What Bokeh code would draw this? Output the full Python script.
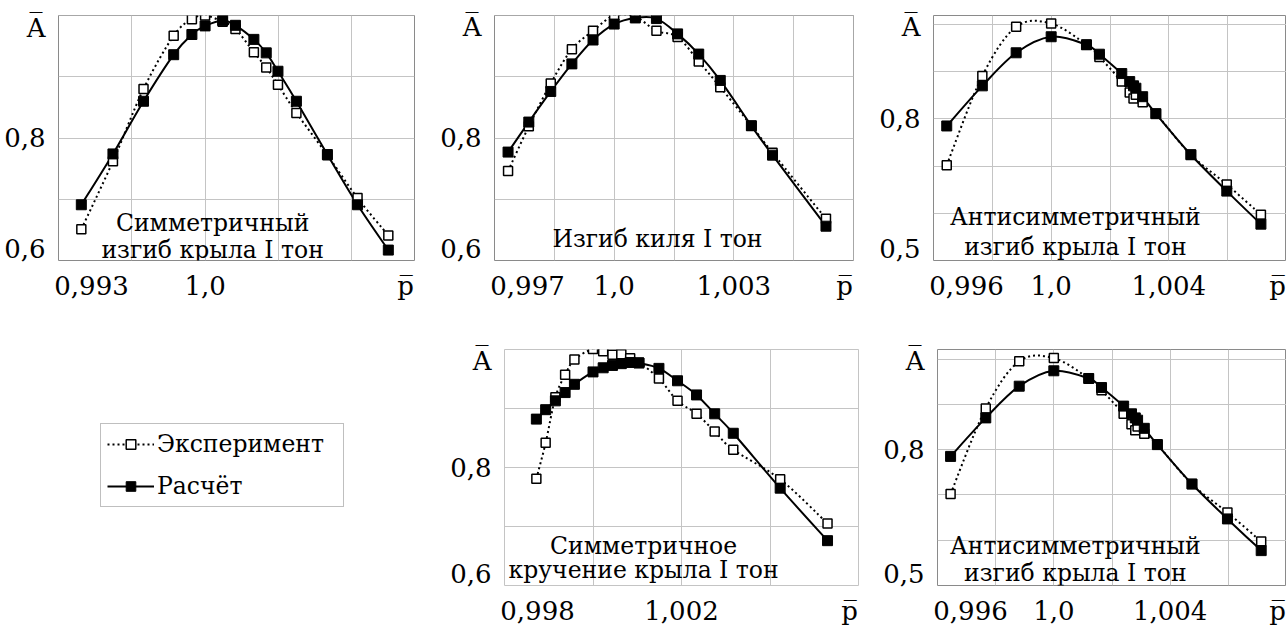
import numpy as np
from bokeh.plotting import figure
from bokeh.layouts import row, column
from bokeh.models import FixedTicker, Label, Legend, LegendItem, ColumnDataSource
from bokeh.embed import file_html
from bokeh.resources import INLINE

FONT = "DejaVu Serif"

# ---------------- data ----------------
# Panel 1: Симметричный изгиб крыла I тон
p1_x = [0.99409, 0.9956, 0.99706, 0.9985, 0.99937, 1.0, 1.00084, 1.00145,
        1.00233, 1.00292, 1.00348, 1.00436, 1.00584, 1.00728, 1.00875]
p1_calc = [0.691, 0.774, 0.860, 0.936, 0.969, 0.983, 0.992, 0.984,
           0.961, 0.939, 0.909, 0.860, 0.773, 0.691, 0.617]
p1_exp = [0.651, 0.762, 0.880, 0.967, 0.994, 1.000, 0.990, 0.978,
          0.940, 0.915, 0.887, 0.841, 0.772, 0.702, 0.641]
p1_xticks = ["0,993", "1,0"]
p1_xtick_vals = [0.993, 1.0]
p1_yticks = ["0,8", "0,6"]
p1_ytick_vals = [0.8, 0.6]
p1_title = ["Симметричный", "изгиб крыла I тон"]

# Panel 2: Изгиб киля I тон
p2_x = [0.99734, 0.99786, 0.99841, 0.99894, 0.99947, 1.0, 1.00053,
        1.00106, 1.00159, 1.00212, 1.00266, 1.00344, 1.00397, 1.00531]
p2_calc = [0.777, 0.826, 0.876, 0.921, 0.960, 0.986, 0.996,
           0.995, 0.970, 0.937, 0.894, 0.820, 0.772, 0.656]
p2_exp = [0.746, 0.819, 0.889, 0.945, 0.975, 1.000, 0.998,
          0.975, 0.965, 0.925, 0.883, 0.820, 0.776, 0.668]
p2_xticks = ["0,997", "1,0", "1,003"]
p2_xtick_vals = [0.997, 1.0, 1.003]
p2_yticks = ["0,8", "0,6"]
p2_ytick_vals = [0.8, 0.6]
p2_title = ["Изгиб киля I тон"]

# Panel 3 (the same curves are shown again in panel 5): Антисимметричный изгиб крыла I тон
p3_x = [0.99645, 0.99766, 0.99881, 1.0, 1.0012, 1.00164, 1.0024, 1.00267,
        1.0028, 1.00288, 1.00311, 1.00356, 1.00475, 1.00597, 1.00713]
p3_calc = [0.785, 0.870, 0.940, 0.974, 0.957, 0.937, 0.896, 0.879,
           0.870, 0.865, 0.847, 0.811, 0.724, 0.647, 0.577]
p3_exp = [0.702, 0.891, 0.995, 1.002, 0.957, 0.931, 0.879, 0.856,
          0.843, 0.851, 0.835, 0.811, 0.724, 0.661, 0.597]
p3_xticks = ["0,996", "1,0", "1,004"]
p3_xtick_vals = [0.996, 1.0, 1.004]
p3_yticks = ["0,8", "0,5"]
p3_ytick_vals = [0.8, 0.5]
p3_title = ["Антисимметричный", "изгиб крыла I тон"]

# Panel 4: Симметричное кручение крыла I тон
p4_x = [0.99872, 0.99893, 0.99915, 0.99937, 0.99958, 1.0, 1.00023, 1.00044,
        1.00064, 1.00084, 1.00104, 1.00149, 1.00191, 1.00234, 1.00275,
        1.00317, 1.00423, 1.0053]
p4_calc = [0.882, 0.898, 0.913, 0.927, 0.941, 0.962, 0.969, 0.973,
           0.976, 0.978, 0.977, 0.968, 0.947, 0.923, 0.891,
           0.858, 0.765, 0.676]
p4_exp = [0.781, 0.842, 0.919, 0.957, 0.983, 1.001, 0.997, 0.991,
          0.992, 0.985, 0.978, 0.951, 0.913, 0.891, 0.861,
          0.830, 0.780, 0.705]
p4_xticks = ["0,998", "1,002"]
p4_xtick_vals = [0.998, 1.002]
p4_yticks = ["0,8", "0,6"]
p4_ytick_vals = [0.8, 0.6]
p4_title = ["Симметричное", "кручение крыла I тон"]

legend_labels = ["Эксперимент", "Расчёт"]
y_name = "A\u0305"
x_name = "p\u0305"


def bezier_source(xs, ys):
    """Smoothed segments through the data points (as in the original smoothed lines)."""
    n = len(xs)
    d = {k: [] for k in ("x0", "y0", "x1", "y1", "cx0", "cy0", "cx1", "cy1")}
    for i in range(n - 1):
        a = max(i - 1, 0)
        b = min(i + 2, n - 1)
        d["x0"].append(xs[i]); d["y0"].append(ys[i])
        d["x1"].append(xs[i + 1]); d["y1"].append(ys[i + 1])
        d["cx0"].append(xs[i] + (xs[i + 1] - xs[a]) / 6.0)
        d["cy0"].append(ys[i] + (ys[i + 1] - ys[a]) / 6.0)
        d["cx1"].append(xs[i + 1] - (xs[b] - xs[i]) / 6.0)
        d["cy1"].append(ys[i + 1] - (ys[b] - ys[i]) / 6.0)
    return ColumnDataSource(d)


def make_panel(xs, calc, exp, xr, yr, xstep, xtick_vals, xticks, ytick_vals, yticks,
               title_lines, title_fx, title_fy, width, height, left, right, top, bottom,
               outline="#8a8a8a"):
    p = figure(width=width, height=height, x_range=xr, y_range=yr,
               output_backend="svg", toolbar_location=None,
               min_border_left=left, min_border_right=right,
               min_border_top=top, min_border_bottom=bottom)
    p.background_fill_color = "white"
    p.border_fill_color = "white"
    p.outline_line_color = outline
    p.outline_line_width = 1

    frame_w = width - left - right
    frame_h = height - top - bottom
    dx = (xr[1] - xr[0]) / frame_w
    dy = (yr[1] - yr[0]) / frame_h

    p.xgrid.ticker = FixedTicker(ticks=list(np.arange(xr[0], xr[1] + 1e-9, xstep)))
    p.ygrid.ticker = FixedTicker(ticks=list(np.arange(0.5, 1.0001, 0.1)))
    p.grid.grid_line_color = "#c4c4c4"
    p.grid.grid_line_width = 1

    # labels at the start of a range are pushed inward, as in the original
    xpos = [v + 33 * dx if abs(v - xr[0]) < 1e-9 else v for v in xtick_vals]
    ypos = [v + 12 * dy if abs(v - yr[0]) < 1e-9 else v for v in ytick_vals]
    xlab = list(xticks)
    ylab = list(yticks)
    # axis names sit in the tick-label bands
    xpos.append(xr[1] - 9 * dx); xlab.append(x_name)
    ypos.append(yr[1] - 12 * dy); ylab.append(y_name)
    p.xaxis.ticker = FixedTicker(ticks=xpos)
    p.xaxis.major_label_overrides = {pv: t for pv, t in zip(xpos, xlab)}
    p.yaxis.ticker = FixedTicker(ticks=ypos)
    p.yaxis.major_label_overrides = {pv: t for pv, t in zip(ypos, ylab)}
    for ax in (p.xaxis, p.yaxis):
        ax.axis_line_color = None
        ax.major_tick_line_color = None
        ax.minor_tick_line_color = None
        ax.major_label_text_font = FONT
        ax.major_label_text_font_size = "26px"
        ax.major_label_text_color = "black"
    p.xaxis.major_label_standoff = 4
    p.yaxis.major_label_standoff = 7

    p.bezier(x0="x0", y0="y0", x1="x1", y1="y1", cx0="cx0", cy0="cy0", cx1="cx1", cy1="cy1",
             source=bezier_source(xs, exp), line_color="black", line_width=2, line_dash="2 3")
    p.bezier(x0="x0", y0="y0", x1="x1", y1="y1", cx0="cx0", cy0="cy0", cx1="cx1", cy1="cy1",
             source=bezier_source(xs, calc), line_color="black", line_width=2)
    p.scatter(xs, exp, marker="square", size=9, fill_color="white", line_color="black",
              line_width=1.5)
    p.scatter(xs, calc, marker="square", size=10, fill_color="black", line_color="black")

    for line, fy in zip(title_lines, title_fy):
        p.add_layout(Label(x=xr[0] + title_fx * (xr[1] - xr[0]), y=yr[0] + fy * (yr[1] - yr[0]),
                           text=line, text_align="center", text_baseline="alphabetic",
                           text_font=FONT, text_font_size="23.5px", text_color="black"))
    return p


p1 = make_panel(p1_x, p1_calc, p1_exp, (0.993, 1.010), (0.6, 1.0), 0.0035,
                p1_xtick_vals, p1_xticks, p1_ytick_vals, p1_yticks,
                p1_title, 0.433, [0.155, 0.041], 430, 305, 58, 16, 15, 45)
p2 = make_panel(p2_x, p2_calc, p2_exp, (0.997, 1.006), (0.6, 1.0), 0.0015,
                p2_xtick_vals, p2_xticks, p2_ytick_vals, p2_yticks,
                p2_title, 0.454, [0.089], 440, 305, 64, 17, 15, 43)
p3 = make_panel(p3_x, p3_calc, p3_exp, (0.996, 1.008), (0.5, 1.019), 0.002,
                p3_xtick_vals, p3_xticks, p3_ytick_vals, p3_yticks,
                p3_title, 0.402, [0.178, 0.057], 416, 305, 63, 0, 15, 43)
p4 = make_panel(p4_x, p4_calc, p4_exp, (0.998, 1.006), (0.6, 1.0), 0.002,
                p4_xtick_vals, p4_xticks, p4_ytick_vals, p4_yticks,
                p4_title, 0.393, [0.168, 0.064], 440, 323, 74, 12, 41, 36,
                outline="#c4c4c4")
p5 = make_panel(p3_x, p3_calc, p3_exp, (0.996, 1.008), (0.5, 1.021), 0.002,
                p3_xtick_vals, p3_xticks, p3_ytick_vals, p3_yticks,
                p3_title, 0.395, [0.169, 0.054], 416, 323, 67, 0, 44, 37)

# legend panel: the two series are drawn here out of view, only their legend shows
pl = figure(width=430, height=323, x_range=(2, 3), y_range=(2, 3), output_backend="svg",
            toolbar_location=None, min_border=0, x_axis_location=None, y_axis_location=None)
pl.grid.visible = False
pl.outline_line_color = None
l_exp = pl.line(p4_x, p4_exp, line_color="black", line_width=2, line_dash="2 3")
s_exp = pl.scatter(p4_x, p4_exp, marker="square", size=9, fill_color="white",
                   line_color="black", line_width=1.5)
l_calc = pl.line(p4_x, p4_calc, line_color="black", line_width=2)
s_calc = pl.scatter(p4_x, p4_calc, marker="square", size=10, fill_color="black",
                    line_color="black")
legend = Legend(items=[LegendItem(label=legend_labels[0], renderers=[l_exp, s_exp]),
                       LegendItem(label=legend_labels[1], renderers=[l_calc, s_calc])],
                location=(100, 78), margin=0, padding=6, spacing=14, label_standoff=3,
                glyph_width=47, glyph_height=24, label_width=180,
                border_line_color="#808080", border_line_width=1,
                label_text_font=FONT, label_text_font_size="23.5px",
                label_text_color="black", background_fill_color="white")
pl.add_layout(legend)

layout = column(row(p1, p2, p3), row(pl, p4, p5))
open("out.html", "w").write(file_html(layout, INLINE))
